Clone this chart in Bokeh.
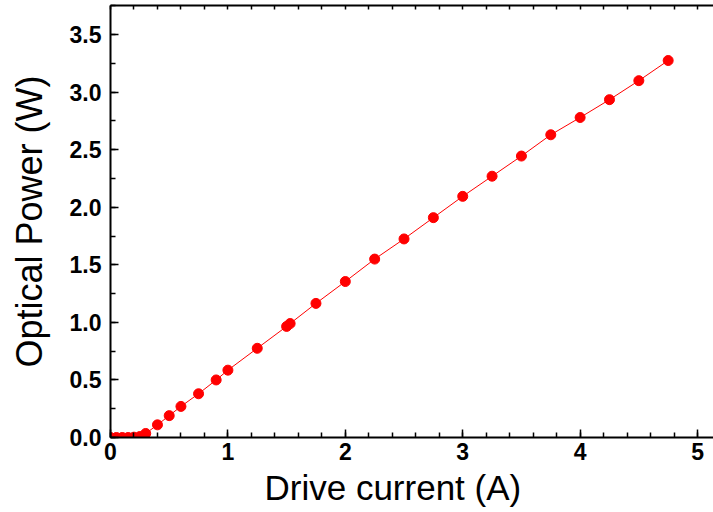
from bokeh.plotting import figure
from bokeh.models import (SingleIntervalTicker, LinearAxis, PrintfTickFormatter,
                          Title, Range1d)
from bokeh.embed import file_html
from bokeh.resources import INLINE

# Data
current = [0, 0.05, 0.1, 0.15, 0.2, 0.25, 0.3, 0.4, 0.5, 0.6, 0.75, 0.9, 1.0,
           1.25, 1.5, 1.53, 1.75, 2.0, 2.25, 2.5, 2.75, 3.0, 3.25, 3.5, 3.75,
           4.0, 4.25, 4.5, 4.75]
power = [0.0, 0.0, 0.0, 0.0, 0.003, 0.008, 0.035, 0.11, 0.19, 0.27, 0.38, 0.50,
         0.585, 0.775, 0.965, 0.99, 1.165, 1.355, 1.55, 1.725, 1.91, 2.095,
         2.27, 2.445, 2.63, 2.78, 2.935, 3.10, 3.275]

x_label = "Drive current (A)"
y_label = "Optical Power (W)"

FONT = "Liberation Sans"
RED = "#ff0000"

p = figure(width=713, height=512, output_backend="svg", toolbar_location=None,
           x_range=Range1d(0, 5.136), y_range=Range1d(0, 3.753),
           min_border_left=110, min_border_right=0, min_border_top=5,
           min_border_bottom=75, x_axis_location=None, y_axis_location=None)
p.outline_line_color = None
p.xgrid.visible = False
p.ygrid.visible = False
p.background_fill_color = "white"
p.border_fill_color = "white"

# bottom axis
xa = LinearAxis(ticker=SingleIntervalTicker(interval=1, num_minor_ticks=5))
xa.axis_line_width = 2
xa.major_tick_in = 8
xa.major_tick_out = 0
xa.minor_tick_in = 5
xa.minor_tick_out = 0
xa.major_tick_line_width = 1.5
xa.minor_tick_line_width = 1.5
xa.major_label_text_font = FONT
xa.major_label_text_font_style = "bold"
xa.major_label_text_font_size = "23px"
xa.major_label_text_color = "black"
xa.major_label_standoff = 5
p.add_layout(xa, "below")

# x axis title placed below the axis
xt = Title(text=x_label, align="left", offset=154, standoff=7,
           text_font=FONT, text_font_style="normal", text_font_size="35px",
           text_color="black")
p.add_layout(xt, "below")

# left axis
ya = LinearAxis(ticker=SingleIntervalTicker(interval=0.5, num_minor_ticks=2),
                formatter=PrintfTickFormatter(format="%.1f"))
ya.axis_line_width = 2
ya.major_tick_in = 8
ya.major_tick_out = 0
ya.minor_tick_in = 5
ya.minor_tick_out = 0
ya.major_tick_line_width = 1.5
ya.minor_tick_line_width = 1.5
ya.major_label_text_font = FONT
ya.major_label_text_font_style = "bold"
ya.major_label_text_font_size = "23px"
ya.major_label_text_color = "black"
ya.major_label_standoff = 9
ya.axis_label = y_label
ya.axis_label_text_font = FONT
ya.axis_label_text_font_style = "normal"
ya.axis_label_text_font_size = "36px"
ya.axis_label_text_color = "black"
ya.axis_label_standoff = 17
p.add_layout(ya, "left")

# top axis (frame with small inward ticks, no labels)
ta = LinearAxis(ticker=SingleIntervalTicker(interval=0.2, num_minor_ticks=0))
ta.axis_line_width = 2
ta.major_tick_in = 4
ta.major_tick_out = 0
ta.minor_tick_line_color = None
ta.major_tick_line_width = 1.5
ta.major_label_text_font_size = "0px"
ta.major_label_text_color = None
ta.major_label_standoff = 0
p.add_layout(ta, "above")

p.line(current, power, line_color=RED, line_width=1)
p.scatter(current, power, size=10, fill_color=RED, line_color=RED)

open("out.html", "w").write(file_html(p, INLINE))
